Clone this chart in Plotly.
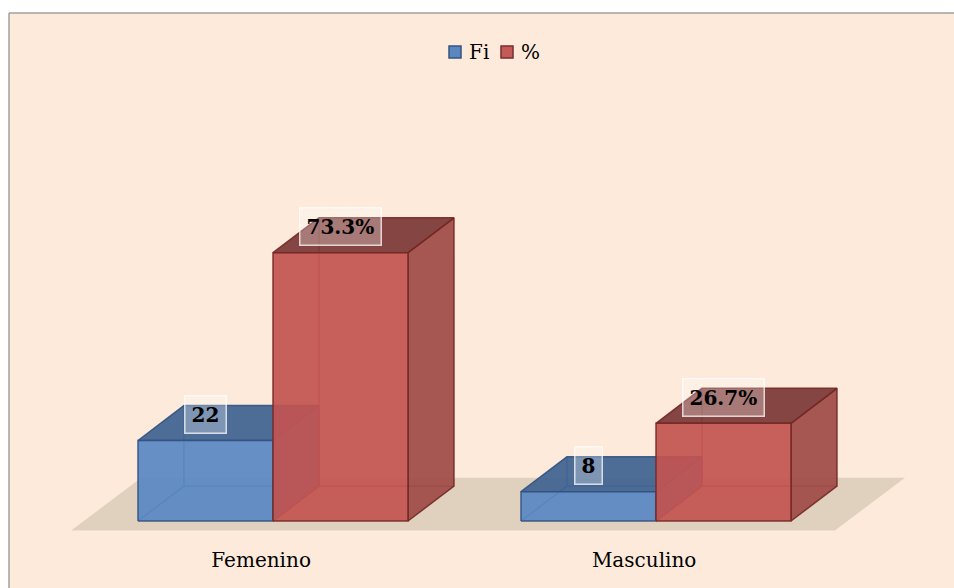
import plotly.graph_objects as go

# data
categories = ["Femenino", "Masculino"]
series_names = ["Fi", "%"]
fi_values = [22, 8]
pct_values = [73.3, 26.7]
fi_labels = ["22", "8"]
pct_labels = ["73.3%", "26.7%"]

# pseudo 3d geometry (axis units)
BAR_W = 0.3525
DEPTH_X = 0.12
DEPTH_Y = 9.54

BLUE = dict(front="rgba(88,135,195,0.92)", top="rgba(62,98,145,0.92)",
            side="rgba(70,110,160,0.92)", edge="rgba(50,82,128,0.9)",
            hidden="rgba(60,100,150,0.9)", legend="#5B87C1", legend_edge="#34567F")
RED = dict(front="rgba(194,84,80,0.92)", top="rgba(120,52,50,0.90)",
           side="rgba(158,74,70,0.92)", edge="rgba(115,40,38,0.9)",
           hidden="rgba(150,55,52,0.9)", legend="#C55B56", legend_edge="#7A2E2C")

FONT = "DejaVu Serif"

# figure / plot area in pixels
W, H = 954, 588
L, T, PW, PH = 60, 80, 854, 458


def px(x):
    return (x - L) / PW


def py(y):
    return (T + PH - y) / PH


def poly(xs, ys, fill, edge):
    return go.Scatter(
        x=xs + [xs[0]], y=ys + [ys[0]],
        mode="lines", fill="toself", fillcolor=fill,
        line=dict(color=edge, width=1.5),
        hoverinfo="skip", showlegend=False,
    )


def box(x0, h, c):
    x1 = x0 + BAR_W
    dx, dy = DEPTH_X, DEPTH_Y
    out = []
    # hidden edges seen through the front face
    out.append(go.Scatter(
        x=[x0, x0 + dx, x0 + dx, None, x0 + dx, x1 + dx],
        y=[0, dy, h + dy, None, dy, dy],
        mode="lines", line=dict(color=c["hidden"], width=1.2),
        hoverinfo="skip", showlegend=False,
    ))
    out.append(poly([x1, x1 + dx, x1 + dx, x1], [0, dy, h + dy, h], c["side"], c["edge"]))
    out.append(poly([x0, x0 + dx, x1 + dx, x1], [h, h + dy, h + dy, h], c["top"], c["edge"]))
    out.append(poly([x0, x1, x1, x0], [0, 0, h, h], c["front"], c["edge"]))
    return out


fig = go.Figure()

# floor
fx0, fx1, fy0, fdx, fdy = -0.527, 1.467, -2.6, 0.183, 14.4
fig.add_trace(go.Scatter(
    x=[fx0, fx1, fx1 + fdx, fx0 + fdx, fx0],
    y=[fy0, fy0, fy0 + fdy, fy0 + fdy, fy0],
    mode="lines", fill="toself", fillcolor="#DFD1BD",
    line=dict(width=0), hoverinfo="skip", showlegend=False,
))

annotations = []
series = [(fi_values, fi_labels, BLUE), (pct_values, pct_labels, RED)]
for i, cat in enumerate(categories):
    for k, (vals, labs, col) in enumerate(series):
        x0 = i - BAR_W + k * BAR_W
        for tr in box(x0, vals[i], col):
            fig.add_trace(tr)
        annotations.append(dict(
            x=x0 + BAR_W / 2, y=vals[i], xref="x", yref="y",
            text="<b>%s</b>" % labs[i], showarrow=False,
            yshift=26, yanchor="middle",
            font=dict(family=FONT, size=20, color="black"),
            bgcolor="rgba(255,255,255,0.28)",
            bordercolor="rgba(255,255,255,0.75)", borderwidth=1.5, borderpad=6,
        ))

# chart frame (right and bottom edges run off the picture)
shapes = [
    dict(type="rect", xref="paper", yref="paper", layer="below",
         x0=px(9), x1=px(W), y0=py(H), y1=py(13),
         fillcolor="#FDEADA", line=dict(width=0)),
    dict(type="line", xref="paper", yref="paper", layer="below",
         x0=px(9), x1=px(W), y0=py(13), y1=py(13),
         line=dict(color="#A0A0A0", width=1.5)),
    dict(type="line", xref="paper", yref="paper", layer="below",
         x0=px(9), x1=px(9), y0=py(13), y1=py(H),
         line=dict(color="#A0A0A0", width=1.5)),
]

# legend (drawn by hand to keep the tight spacing)
legend_x = [449, 501]
for name, (vals, labs, col), lx in zip(series_names, series, legend_x):
    shapes.append(dict(type="rect", xref="paper", yref="paper",
                       x0=px(lx), x1=px(lx + 12), y0=py(58), y1=py(46),
                       fillcolor=col["legend"], line=dict(color=col["legend_edge"], width=1.5)))
    annotations.append(dict(x=px(lx + 18), y=py(52), xref="paper", yref="paper",
                            text=name, showarrow=False, xanchor="left", yanchor="middle",
                            font=dict(family=FONT, size=20, color="black")))

fig.update_layout(
    width=W, height=H, autosize=False,
    margin=dict(l=L, r=W - L - PW, t=T, b=H - T - PH),
    paper_bgcolor="white",
    plot_bgcolor="rgba(0,0,0,0)",
    font=dict(family=FONT, size=20, color="black"),
    showlegend=False,
    annotations=annotations,
    shapes=shapes,
)
fig.update_xaxes(range=[-0.55614, 1.67363], tickvals=[i - 0.031 for i in range(len(categories))],
                 ticktext=categories, showgrid=False, zeroline=False, showline=False,
                 ticks="", ticklabelstandoff=8, tickfont=dict(family=FONT, size=20))
fig.update_yaxes(range=[-4.645, 120.49], visible=False)

# drop the default page margin so the 954x588 figure fills the window exactly
fig.write_html(
    "out.html",
    config={"displayModeBar": False},
    post_script="document.body.style.margin='0';"
                "document.body.style.overflow='hidden';"
                "document.documentElement.style.overflow='hidden';",
)
